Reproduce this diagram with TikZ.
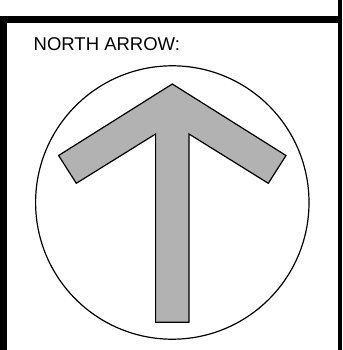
\documentclass[tikz,border=0pt]{standalone}
\usepackage{fontspec}
\setmainfont{Liberation Sans}
\begin{document}
\begin{tikzpicture}[x=1pt,y=-1pt,
  frame/.style={fill=black,draw=none},
  outline/.style={draw=black,line width=1.2pt},
  arrowshape/.style={outline,fill=black!30,line join=miter},
  label/.style={anchor=base west,inner sep=0pt,font=\fontsize{18.5}{20}\selectfont}]
\useasboundingbox (0,0) rectangle (342,350);
\fill[white] (0,0) rectangle (342,350);
% frame
\path[frame] (0,16) rectangle (338,23);
\path[frame] (0,16) rectangle (6.5,350);
\path[frame] (338,0) rectangle (342,350);
% label
\node[label] (title) at (33.5,50.7) {NORTH ARROW:};
% circle
\coordinate (c) at (172.3,202.5);
\draw[outline] (c) circle[radius=136.7];
% arrow
\draw[arrowshape] (172.3,84) -- (286,155.5) -- (268.3,183.3) -- (189,134)
  -- (189,322.3) -- (155.6,322.3) -- (155.6,134) -- (76.3,183.3) -- (58.6,155.5) -- cycle;
\end{tikzpicture}
\end{document}
